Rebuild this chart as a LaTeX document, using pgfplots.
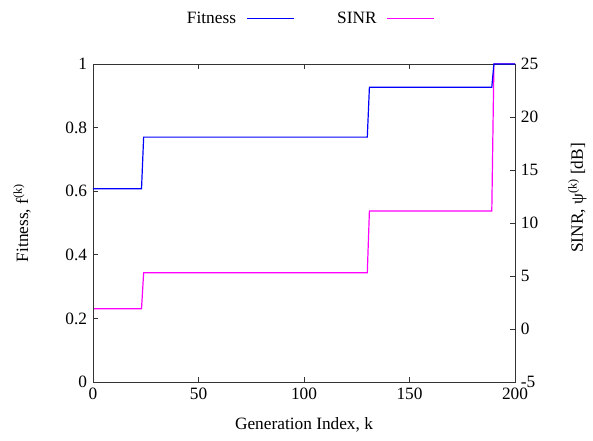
\documentclass[border=0pt]{standalone}
\usepackage{fontspec}
\setmainfont{Liberation Serif}
\usepackage{pgfplots}
\pgfplotsset{compat=1.18}

\definecolor{fitblue}{RGB}{0,0,255}
\definecolor{sinrmag}{RGB}{255,0,255}

\newcommand{\chartfont}{\fontsize{17.3}{20}\selectfont}

\pgfplotsset{
  twin/.style={
    width=422pt, height=318pt, scale only axis,
    at={(0pt,0pt)}, anchor=south west,
    xmin=0, xmax=200,
    clip=false,
    tick align=inside,
    major tick length=5pt,
    /pgf/number format/assume math mode=true,
    axis line style={black!80, line width=0.9pt},
    every tick/.style={black!80, line width=0.9pt},
    tick label style={font=\chartfont},
    label style={font=\chartfont},
  },
}

\begin{document}
\chartfont
\begin{tikzpicture}
\useasboundingbox (-93pt,-58pt) rectangle (500pt,382pt);

% right axis: SINR in dB
\begin{axis}[twin,
  axis x line=none,
  axis y line*=right,
  ymin=-5, ymax=25,
  ytick={-5,0,5,10,15,20,25},
  ylabel={SINR, ψ\textsuperscript{(k)} [dB]},
  ylabel style={at={(axis description cs:1.148,0.579)}, anchor=center},
]
\addplot[sinrmag, line width=1.2pt] coordinates {
  (0,1.92) (23,1.92) (24,5.31) (130,5.31) (131,11.13) (189,11.13) (190,25) (200,25)
};
\end{axis}

% left axis: fitness value
\begin{axis}[twin,
  ymin=0, ymax=1,
  ytick={0,0.2,0.4,0.6,0.8,1},
  ytick pos=left,
  xtick={0,50,100,150,200},
  xtick pos=both,
  xticklabel pos=lower,
  xlabel={Generation Index, k},
  xlabel style={at={(axis description cs:0.5,-0.135)}, anchor=center},
  ylabel={Fitness, f\textsuperscript{(k)}},
  ylabel style={at={(axis description cs:-0.168,0.5)}, anchor=center},
  legend columns=2,
  legend plot pos=right,
  legend style={
    at={(axis description cs:0.514,1.142)}, anchor=center,
    draw=none, fill=none,
    font=\chartfont,
    /tikz/every odd column/.append style={column sep=8pt},
    /tikz/every even column/.append style={column sep=41pt},
  },
  legend image code/.code={\draw[#1] (0pt,0pt) -- (47pt,0pt);},
]
\addplot[fitblue, line width=1.2pt] coordinates {
  (0,0.608) (23,0.608) (24,0.770) (130,0.770) (131,0.927) (189,0.927) (190,1) (200,1)
};
\addlegendentry{Fitness}
\addlegendimage{sinrmag, line width=1.2pt}
\addlegendentry{SINR}
\end{axis}
\end{tikzpicture}
\end{document}
